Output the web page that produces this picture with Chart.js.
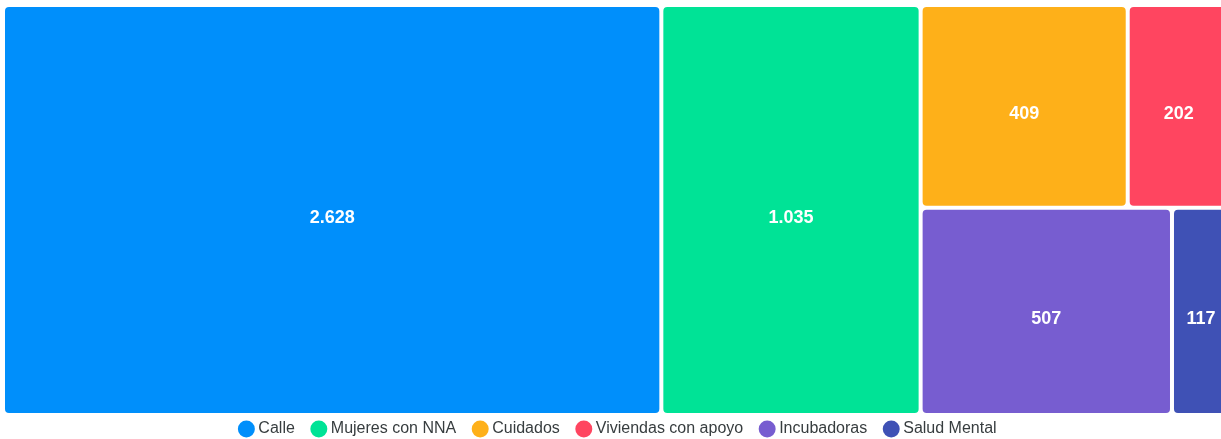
<!DOCTYPE html>
<html>
<head>
<meta charset="utf-8">
<script src="https://cdn.jsdelivr.net/npm/chart.js@4.4.1/dist/chart.umd.min.js"></script>
<style>
  html, body { margin: 0; padding: 0; background: #fff; }
  #wrap { width: 1221px; height: 439px; }
</style>
</head>
<body>
<div id="wrap"><canvas id="treemap"></canvas></div>
<script>
const categories = ["Calle", "Mujeres con NNA", "Cuidados", "Viviendas con apoyo", "Incubadoras", "Salud Mental"];
const values = [2628, 1035, 409, 202, 507, 117];
const colors = ["#008FFB", "#00E396", "#FEB019", "#FF4560", "#775DD0", "#3F51B5"];

// layout box (in scale units) the treemap is split into
const boxW = 1227;
const boxH = 410;

function worst(row, side) {
    const s = row.reduce((a, b) => a + b, 0);
    const mx = Math.max(...row), mn = Math.min(...row);
    return Math.max(side * side * mx / (s * s), (s * s) / (side * side * mn));
}

// squarified layout, keeps data order
function squarify(vals, x, y, w, h) {
    const total = vals.reduce((a, b) => a + b, 0);
    const areas = vals.map(v => v * w * h / total);
    const rects = [];
    let i = 0;
    while (i < areas.length) {
        const side = Math.min(w, h);
        const row = [areas[i]];
        let j = i + 1;
        while (j < areas.length && worst(row.concat(areas[j]), side) <= worst(row, side)) {
            row.push(areas[j]);
            j++;
        }
        const s = row.reduce((a, b) => a + b, 0);
        if (w >= h) {
            const cw = s / h;
            let yy = y;
            row.forEach(a => { rects.push({ x: x, y: yy, w: cw, h: a / cw }); yy += a / cw; });
            x += cw; w -= cw;
        } else {
            const rh = s / w;
            let xx = x;
            row.forEach(a => { rects.push({ x: xx, y: y, w: a / rh, h: rh }); xx += a / rh; });
            y += rh; h -= rh;
        }
        i = j;
    }
    return rects;
}

const rects = squarify(values, 0, 0, boxW, boxH);

function fmt(n) {
    return String(n).replace(/\B(?=(\d{3})+(?!\d))/g, ".");
}

const treemapPlugin = {
    id: "treemapCells",
    afterDatasetsDraw(chart) {
        const ctx = chart.ctx;
        const xs = chart.scales.x, ys = chart.scales.y;
        chart.data.datasets.forEach((ds, i) => {
            if (!chart.isDatasetVisible(i)) return;
            const r = ds.rect;
            const x1 = xs.getPixelForValue(r.x), x2 = xs.getPixelForValue(r.x + r.w);
            const y1 = ys.getPixelForValue(r.y), y2 = ys.getPixelForValue(r.y + r.h);
            ctx.save();
            ctx.fillStyle = ds.backgroundColor;
            ctx.beginPath();
            ctx.roundRect(x1 + 2, y1 + 2, x2 - x1 - 4, y2 - y1 - 4, 4);
            ctx.fill();
            ctx.fillStyle = "#fff";
            ctx.font = "bold 18px 'Liberation Sans', Arial, sans-serif";
            ctx.textAlign = "center";
            ctx.textBaseline = "middle";
            ctx.fillText(fmt(ds.value), (x1 + x2) / 2, (y1 + y2) / 2 + 8);
            ctx.restore();
        });
    }
};

const ctx = document.getElementById("treemap").getContext("2d");

new Chart(ctx, {
    type: "scatter",
    data: {
        datasets: categories.map((name, i) => ({
            label: name,
            value: values[i],
            rect: rects[i],
            data: [{ x: rects[i].x + rects[i].w / 2, y: rects[i].y + rects[i].h / 2 }],
            backgroundColor: colors[i],
            borderWidth: 0,
            pointRadius: 0,
            pointStyle: "circle"
        }))
    },
    options: {
        responsive: true,
        maintainAspectRatio: false,
        animation: false,
        layout: { padding: { left: 18, top: 5, right: 0, bottom: -8 } },
        scales: {
            x: { type: "linear", min: 15, max: 1218, display: false },
            y: { type: "linear", min: 0, max: 396, reverse: true, display: false }
        },
        plugins: {
            tooltip: { enabled: false },
            legend: {
                position: "bottom",
                labels: {
                    usePointStyle: true,
                    boxWidth: 8,
                    boxHeight: 12,
                    padding: 20,
                    color: "#373d3f",
                    font: { family: "'Liberation Sans', Arial, sans-serif", size: 16 }
                }
            }
        }
    },
    plugins: [treemapPlugin]
});
</script>
</body>
</html>
